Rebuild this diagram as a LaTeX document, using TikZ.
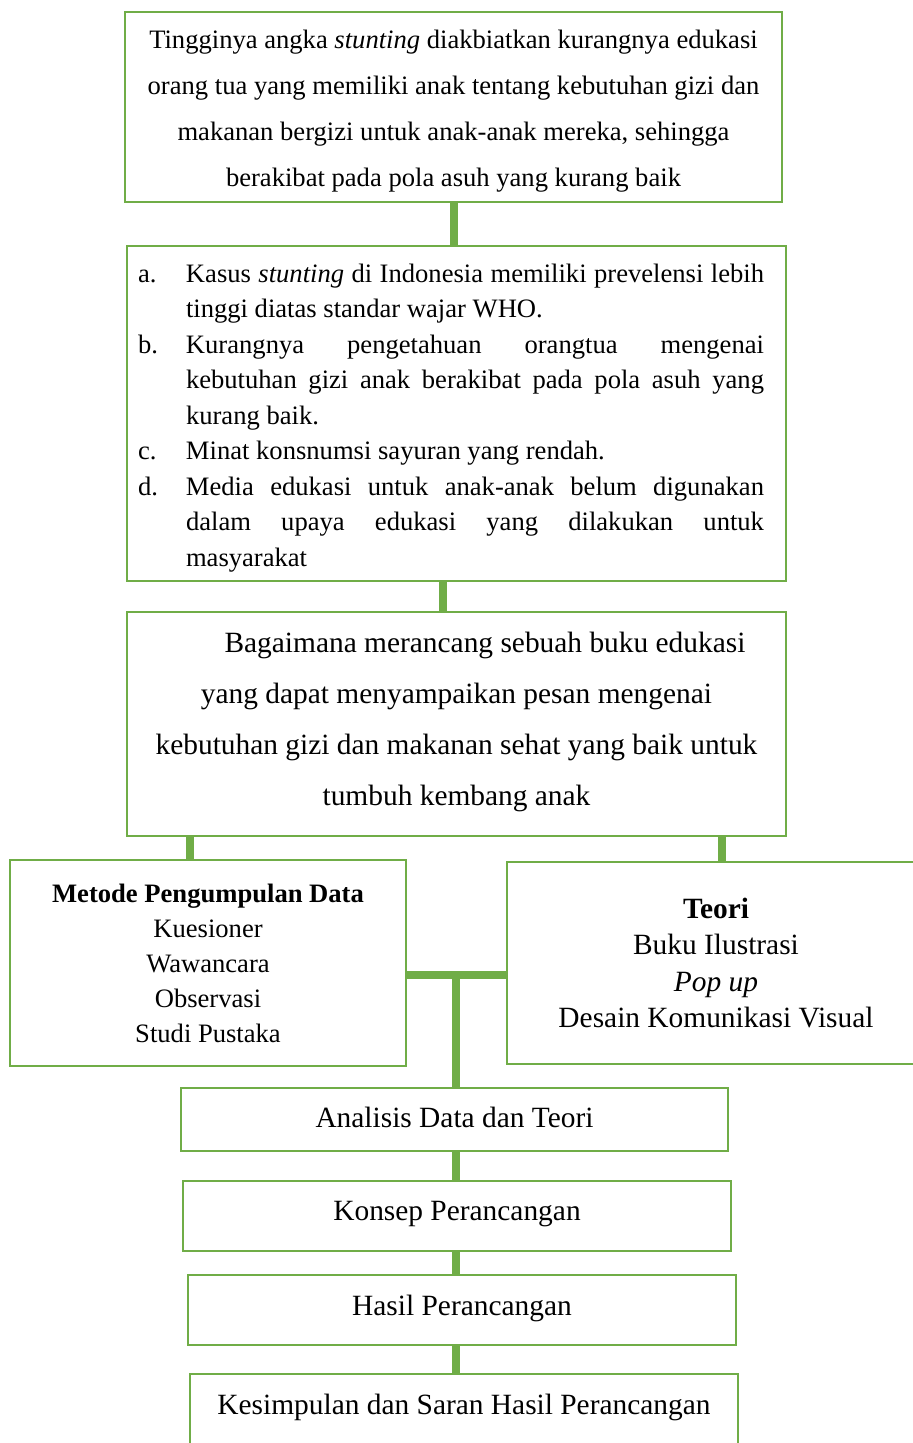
\documentclass[tikz,border=0pt]{standalone}
\usepackage{fontspec}
\setmainfont{Liberation Serif}
\usetikzlibrary{calc,positioning}
\definecolor{mainc}{HTML}{70AD47}
\tikzset{
  box/.style={draw=mainc,line width=1.3pt,align=center,inner sep=0pt},
  conn/.style={mainc,line width=4pt},
  fa/.style={font=\fontsize{13.3}{17.5}\selectfont},
  fb/.style={font=\fontsize{14.7}{18.3}\selectfont}
}
\newcommand{\butir}[2]{\par\noindent\rightskip=5.5pt\hangindent=24pt\hangafter=1\makebox[24pt][l]{#1}#2}

\begin{document}
\begin{tikzpicture}[x=0.5pt,y=-0.5pt]
\useasboundingbox (0,0) rectangle (913,1443);
% latar belakang
\node[box,minimum width=328.5pt,minimum height=95pt,font=\fontsize{13.3}{23}\selectfont] (masalah) at (453.5,107)
  {\rule{0pt}{13.1pt}Tingginya angka \textit{stunting} diakbiatkan kurangnya edukasi\\orang tua yang memiliki anak tentang kebutuhan gizi dan\\makanan bergizi untuk anak-anak mereka, sehingga\\berakibat pada pola asuh yang kurang baik};
% identifikasi masalah
\node[box,minimum width=329.5pt,minimum height=167.5pt,text width=318.5pt,align=justify,font=\fontsize{13.3}{17.75}\selectfont] (identifikasi) at (456.5,413.5)
  {\butir{a.}{Kasus \textit{stunting} di Indonesia memiliki prevelensi lebih\linebreak tinggi diatas standar wajar WHO.}
   \butir{b.}{Kurangnya pengetahuan orangtua mengenai\linebreak kebutuhan gizi anak berakibat pada pola asuh yang\linebreak kurang baik.}
   \butir{c.}{Minat konsnumsi sayuran yang rendah.}
   \butir{d.}{Media edukasi untuk anak-anak belum digunakan\linebreak dalam upaya edukasi yang dilakukan untuk\linebreak masyarakat\rule[-7pt]{0pt}{0pt}}\par};
% rumusan masalah
\node[box,minimum width=329.5pt,minimum height=112pt,font=\fontsize{14.7}{25.5}\selectfont] (rumusan) at (456.5,724)
  {\hspace*{28.5pt}Bagaimana merancang sebuah buku edukasi\\yang dapat menyampaikan pesan mengenai\\kebutuhan gizi dan makanan sehat yang baik untuk\\tumbuh kembang anak\rule[-5.5pt]{0pt}{0pt}};
% data dan teori
\node[box,minimum width=198pt,minimum height=103pt,fa] (metode) at (208,963)
  {\textbf{Metode Pengumpulan Data}\\Kuesioner\\Wawancara\\Observasi\\Studi Pustaka};
\node[box,minimum width=209pt,minimum height=101pt,fb] (teori) at (716,963)
  {\textbf{Teori}\\Buku Ilustrasi\\\textit{Pop up}\\Desain Komunikasi Visual};
% tahap perancangan
\node[box,minimum width=273.5pt,minimum height=31.5pt,fb,text depth=2.7pt] (analisis) at (454.5,1119.5) {Analisis Data dan Teori};
\node[box,minimum width=274pt,minimum height=35pt,fb,text depth=5pt] (konsep) at (457,1216) {Konsep Perancangan};
\node[box,minimum width=274pt,minimum height=35pt,fb,text depth=5.2pt] (hasil) at (462,1310) {Hasil Perancangan};
\node[box,minimum width=274pt,minimum height=36pt,fb,text depth=6.2pt] (simpulan) at (464,1410) {Kesimpulan dan Saran Hasil Perancangan};

\coordinate (spine) at (456,975);
\draw[conn] (masalah.south) -- (masalah.south |- identifikasi.north);
\draw[conn] ([xshift=-6.75pt]identifikasi.south) -- ([xshift=-6.75pt]identifikasi.south |- rumusan.north);
\draw[conn] ([xshift=-9pt]metode.north) -- ([xshift=-9pt]metode.north |- rumusan.south);
\draw[conn] ([xshift=3pt]teori.north) -- ([xshift=3pt]teori.north |- rumusan.south);
\draw[conn] ([yshift=-6pt]metode.east) -- ([yshift=-6pt]metode.east -| teori.west);
\draw[conn] (spine) -- (spine |- analisis.north);
\draw[conn] (analisis.south -| spine) -- (konsep.north -| spine);
\draw[conn] (konsep.south -| spine) -- (hasil.north -| spine);
\draw[conn] (hasil.south -| spine) -- (simpulan.north -| spine);
\end{tikzpicture}
\end{document}
